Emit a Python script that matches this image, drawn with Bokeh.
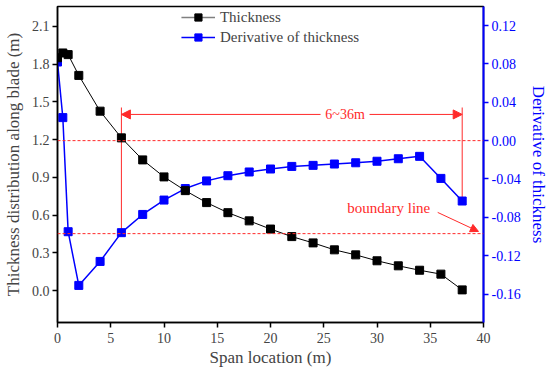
from bokeh.plotting import figure
from bokeh.models import (Range1d, LinearAxis, FixedTicker, PrintfTickFormatter,
                          Legend, LegendItem, Arrow, NormalHead, Label, Span)
from bokeh.embed import file_html
from bokeh.resources import INLINE

# ---- data ----
span_x = [0, 0.5, 1, 2, 4, 6, 8, 10, 12, 14, 16, 18, 20, 22, 24, 26, 28, 30, 32, 34, 36, 38]
thickness = [1.85, 1.888, 1.875, 1.71, 1.426, 1.214, 1.039, 0.904, 0.795, 0.70, 0.62, 0.555,
             0.49, 0.43, 0.38, 0.325, 0.285, 0.238, 0.198, 0.163, 0.132, 0.007]
derivative = [0.082, 0.024, -0.095, -0.151, -0.126, -0.096, -0.077, -0.062, -0.050, -0.042,
              -0.0366, -0.0327, -0.0296, -0.0269, -0.0258, -0.0244, -0.0231, -0.0215, -0.0189,
              -0.0164, -0.0394, -0.063]
x_ticks = [0, 5, 10, 15, 20, 25, 30, 35, 40]
left_ticks = [0.0, 0.3, 0.6, 0.9, 1.2, 1.5, 1.8, 2.1]
right_ticks = [-0.16, -0.12, -0.08, -0.04, 0.0, 0.04, 0.08, 0.12]
region_start, region_end = 6, 38
region_label = "6~36m"
boundary_label = "boundary line"
boundary_levels = [0.0, -0.097]

FONT = "Liberation Serif"
BLUE = "#0000ff"
RED = "#ff2a2a"

L0, L1 = -0.252, 2.257
R0, R1 = -0.1897, 0.1399


def to_left(d):
    return L0 + (d - R0) * (L1 - L0) / (R1 - R0)


p = figure(width=550, height=374, x_range=Range1d(0, 40), y_range=Range1d(L0, L1),
           output_backend="svg", toolbar_location=None,
           min_border_top=6, min_border_left=56, min_border_right=66, min_border_bottom=52)
p.extra_y_ranges = {"d": Range1d(R0, R1)}
p.background_fill_color = "white"
p.border_fill_color = "white"
p.xgrid.visible = False
p.ygrid.visible = False
p.outline_line_color = "black"
p.outline_line_width = 1.5

# axes styling
for ax in [p.xaxis[0], p.yaxis[0]]:
    ax.axis_line_width = 1.5
    ax.major_tick_line_width = 1.5
    ax.major_tick_in = 0
    ax.major_tick_out = 5
    ax.minor_tick_line_color = None
    ax.major_label_text_font = FONT
    ax.major_label_text_font_size = "14px"
    ax.axis_label_text_font = FONT
    ax.axis_label_text_font_size = "17px"
    ax.axis_label_text_font_style = "normal"

p.xaxis[0].ticker = FixedTicker(ticks=x_ticks)
p.xaxis[0].axis_label = "Span location (m)"
p.xaxis[0].major_label_standoff = 5
p.xaxis[0].axis_label_standoff = 2
p.yaxis[0].ticker = FixedTicker(ticks=left_ticks)
p.yaxis[0].formatter = PrintfTickFormatter(format="%.1f")
p.yaxis[0].axis_label = "Thickness distribution along blade (m)"
p.yaxis[0].major_label_standoff = 3
p.yaxis[0].axis_label_standoff = 6

rax = LinearAxis(y_range_name="d", ticker=FixedTicker(ticks=right_ticks),
                 formatter=PrintfTickFormatter(format="%.2f"),
                 axis_label="Derivative of thickness")
rax.axis_line_color = BLUE
rax.axis_line_width = 2
rax.major_tick_line_color = BLUE
rax.major_tick_line_width = 1.5
rax.major_tick_in = 0
rax.major_tick_out = 5
rax.minor_tick_line_color = None
rax.major_label_text_color = BLUE
rax.major_label_text_font = FONT
rax.major_label_text_font_size = "14px"
rax.major_label_standoff = 3
rax.axis_label_text_color = BLUE
rax.axis_label_text_font = FONT
rax.axis_label_text_font_size = "17px"
rax.axis_label_text_font_style = "normal"
rax.axis_label_standoff = 5
p.add_layout(rax, "right")

# reference dashed lines
for lv in boundary_levels:
    p.add_layout(Span(location=lv, dimension="width", y_range_name="d",
                      line_color=RED, line_width=1, line_dash="3 2"))

# vertical red lines
i0 = span_x.index(region_start)
i1 = span_x.index(region_end)
top_y = 1.455
p.segment(x0=[region_start, region_end], y0=[top_y, top_y],
          x1=[region_start, region_end],
          y1=[to_left(derivative[i0]), to_left(derivative[i1])],
          line_color=RED, line_width=1)

# region arrow
arrow_y = 1.40
p.add_layout(Arrow(end=NormalHead(size=9, fill_color=RED, line_color=RED),
                   x_start=24.7, y_start=arrow_y, x_end=region_start, y_end=arrow_y,
                   line_color=RED, line_width=1))
p.add_layout(Arrow(end=NormalHead(size=9, fill_color=RED, line_color=RED),
                   x_start=29.3, y_start=arrow_y, x_end=region_end, y_end=arrow_y,
                   line_color=RED, line_width=1))
p.add_layout(Label(x=27.0, y=arrow_y, text=region_label, text_align="center",
                   text_baseline="middle", text_color=RED, text_font=FONT,
                   text_font_size="14px"))

# boundary label and arrow
p.add_layout(Label(x=35.0, y=0.659, text=boundary_label, text_align="right",
                   text_baseline="middle", text_color=RED, text_font=FONT,
                   text_font_size="15px"))
p.add_layout(Arrow(end=NormalHead(size=8, fill_color=RED, line_color=RED),
                   x_start=35.7, y_start=0.622, x_end=39.53, y_end=0.471,
                   line_color=RED, line_width=1))

# data
bl = p.line(span_x, derivative, y_range_name="d", line_color=BLUE, line_width=1.5)
bs = p.scatter(span_x, derivative, y_range_name="d", marker="square", size=8,
               fill_color=BLUE, line_color=BLUE)
kl = p.line(span_x, thickness, line_color="black", line_width=1)
ks = p.scatter(span_x, thickness, marker="square", size=8, fill_color="black", line_color="black")

# legend helper lines (placed outside the visible range so only their legend glyphs show)
gl = p.line([-10, -9], [-10, -10], line_color="gray", line_width=1.5)
bl2 = p.line([-10, -9], [-10, -10], line_color=BLUE, line_width=1.5)
legend = Legend(items=[LegendItem(label="Thickness", renderers=[gl, ks]),
                       LegendItem(label="Derivative of thickness", renderers=[bl2, bs])],
                location="top_center")
legend.border_line_color = None
legend.background_fill_alpha = 0
legend.label_text_font = FONT
legend.label_text_font_size = "15px"
legend.glyph_width = 34
legend.glyph_height = 18
legend.label_height = 18
legend.spacing = 2
legend.padding = 0
legend.margin = 2
legend.label_standoff = 5
p.add_layout(legend)

open("out.html", "w").write(file_html(p, INLINE))
